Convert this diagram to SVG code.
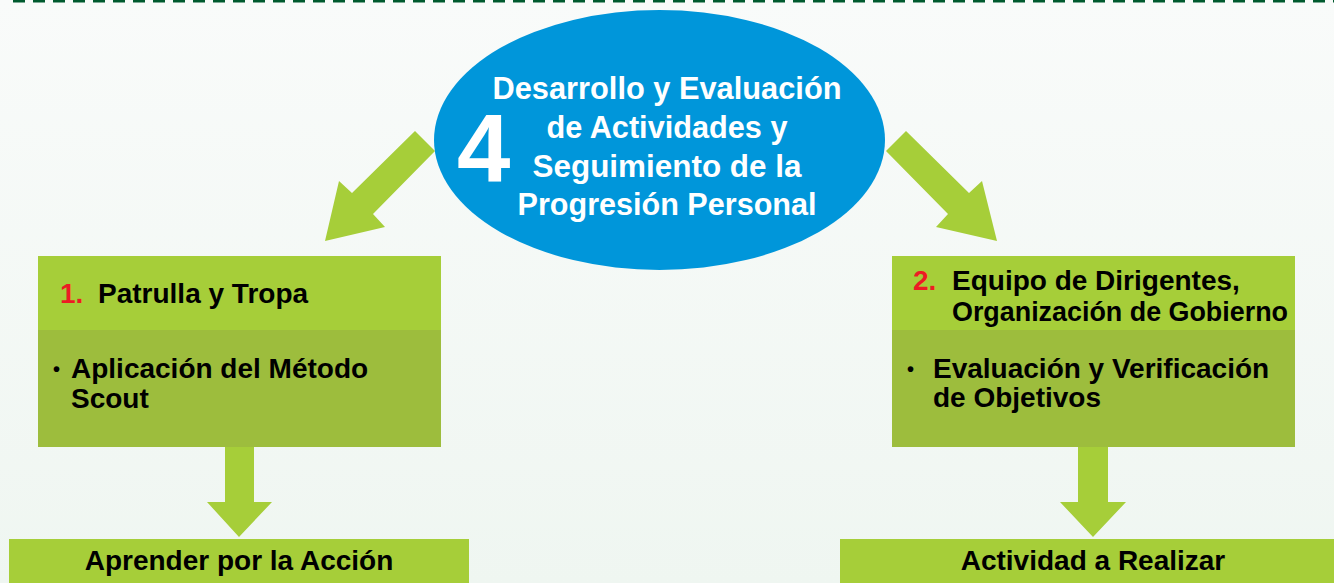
<svg xmlns="http://www.w3.org/2000/svg" width="1334" height="583" viewBox="0 0 1334 583">
<defs>
<linearGradient id="bg" x1="0" y1="0" x2="0" y2="1">
<stop offset="0" stop-color="#f9fbfa"/>
<stop offset="1" stop-color="#eff6f1"/>
</linearGradient>
</defs>
<style>
.hdr{fill:#a6ce39}
.body{fill:#9dbd3d}
.arrow{fill:#a6ce39}
.t{font-family:"Liberation Sans",Arial,sans-serif;font-weight:bold;font-size:28px;fill:#000}
.num{fill:#ed1c24}
.w{font-family:"Liberation Sans",Arial,sans-serif;font-weight:bold;font-size:31px;fill:#fff;text-anchor:middle}
</style>
<rect width="1334" height="583" fill="url(#bg)"/>
<line x1="13" y1="1" x2="1334" y2="1" stroke="#005a2e" stroke-width="3" stroke-dasharray="12 8"/>
<g id="connectors">
<polygon class="arrow" points="415,131 435,151 373,214 385,227 325,241 339,181 352,193"/>
<polygon class="arrow" points="906,131 969,193 982,181 997,241 936,227 948,214 886,151"/>
<polygon class="arrow" points="225,444 254,444 254,502 272,502 239,537 207,502 225,502"/>
<polygon class="arrow" points="1078,444 1108,444 1108,502 1126,502 1093,537 1060,502 1078,502"/>
</g>
<g id="center">
<ellipse cx="659.5" cy="140" rx="225.5" ry="130" fill="#0096da"/>
<text x="457" y="182" style="font-family:'Liberation Sans',Arial,sans-serif;font-weight:bold;font-size:96px;fill:#fff">4</text>
<text class="w" x="667" y="99" textLength="349" lengthAdjust="spacingAndGlyphs">Desarrollo y Evaluación</text>
<text class="w" x="667" y="138" textLength="241" lengthAdjust="spacingAndGlyphs">de Actividades y</text>
<text class="w" x="667" y="177" textLength="269" lengthAdjust="spacingAndGlyphs">Seguimiento de la</text>
<text class="w" x="667" y="215" textLength="299" lengthAdjust="spacingAndGlyphs">Progresión Personal</text>
</g>
<g id="box1">
<rect class="hdr" x="38" y="256" width="403" height="74"/>
<rect class="body" x="38" y="330" width="403" height="117"/>
<text class="t num" x="60" y="303">1.</text>
<text class="t" x="98" y="303">Patrulla y Tropa</text>
<text class="t" x="53" y="376" style="font-size:20px">•</text>
<text class="t" x="71" y="378">Aplicación del Método</text>
<text class="t" x="71" y="408">Scout</text>
</g>
<g id="box2">
<rect class="hdr" x="892" y="256" width="403" height="74"/>
<rect class="body" x="892" y="330" width="403" height="117"/>
<text class="t num" x="913" y="290">2.</text>
<text class="t" x="952" y="290">Equipo de Dirigentes,</text>
<text class="t" x="952" y="321" textLength="336" lengthAdjust="spacingAndGlyphs">Organización de Gobierno</text>
<text class="t" x="907" y="376" style="font-size:20px">•</text>
<text class="t" x="933" y="378">Evaluación y Verificación</text>
<text class="t" x="933" y="407">de Objetivos</text>
</g>
<g id="bottom1">
<rect class="hdr" x="9" y="539" width="460" height="50"/>
<text class="t" x="239" y="570" text-anchor="middle">Aprender por la Acción</text>
</g>
<g id="bottom2">
<rect class="hdr" x="840" y="539" width="506" height="50"/>
<text class="t" x="1093" y="570" text-anchor="middle">Actividad a Realizar</text>
</g>
</svg>
